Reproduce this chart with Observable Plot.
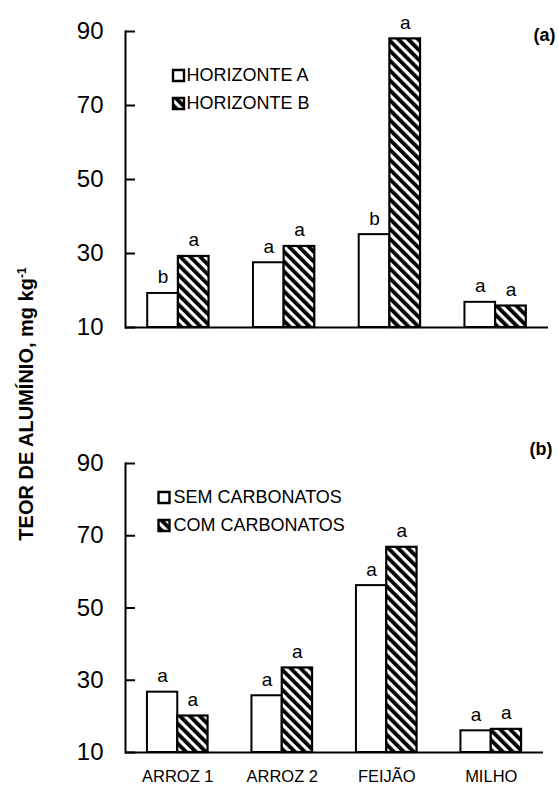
<!DOCTYPE html>
<html>
<head>
<meta charset="utf-8">
<script src="https://cdn.jsdelivr.net/npm/d3@7"></script>
<script src="https://cdn.jsdelivr.net/npm/@observablehq/plot@0.6"></script>
<style>
  html, body { margin: 0; padding: 0; background: #fff; }
  #wrap { position: relative; width: 558px; height: 786px; overflow: hidden; background: #fff; font-family: "Liberation Sans", Arial, sans-serif; }
  #top, #bottom { position: absolute; left: 0; }
  #top { top: 0; }
  #bottom { top: 420px; }
  #ylab { position: absolute; left: 26px; top: 404px; transform: translate(-50%, -50%) rotate(-90deg); white-space: nowrap; font-weight: bold; font-size: 20px; color: #000; line-height: 1; }
  #ylab sup { font-size: 0.6em; }
</style>
</head>
<body>
<div id="wrap">
  <div id="top"></div>
  <div id="bottom"></div>
  <div id="ylab">TEOR DE ALUMÍNIO, mg kg<sup>-1</sup></div>
</div>
<script>
// ---- data ----
const crops = ["ARROZ 1", "ARROZ 2", "FEIJÃO", "MILHO"];
const yTicks = [10, 30, 50, 70, 90];

// panel (a)
const horizonteA = [19.2, 27.5, 35.1, 16.8];
const horizonteB = [29.2, 31.9, 88.0, 15.8];
const letrasA_a = ["b", "a", "b", "a"];
const letrasA_b = ["a", "a", "a", "a"];
const legendA = ["HORIZONTE A", "HORIZONTE B"];

// panel (b)
const semCarbonatos = [26.7, 25.7, 56.2, 16.0];
const comCarbonatos = [20.1, 33.4, 66.8, 16.4];
const letrasB_a = ["a", "a", "a", "a"];
const letrasB_b = ["a", "a", "a", "a"];
const legendB = ["SEM CARBONATOS", "COM CARBONATOS"];

const FONT = "'Liberation Sans', Arial, sans-serif";
const W = 558;
const PI_ = 0.42, PO_ = 0.21;

function panel(cfg) {
  const rows = crops.map((c, i) => ({crop: c, a: cfg.a[i], b: cfg.b[i], la: cfg.la[i], lb: cfg.lb[i]}));
  const step = (W - cfg.ml - cfg.mr) / (crops.length - PI_ + 2 * PO_);
  const bw = step * (1 - PI_);
  const hatch = `url(#${cfg.id})`;
  const marks = [
    Plot.barY(rows, {x: "crop", y1: 10, y2: "a", fill: "white", stroke: "black", strokeWidth: 2, insetRight: bw / 2}),
    Plot.barY(rows, {x: "crop", y1: 10, y2: "b", fill: hatch, stroke: "black", strokeWidth: 2.2, insetLeft: bw / 2}),
    Plot.text(rows, {x: "crop", y: "a", text: "la", dx: -bw / 4, dy: -10, lineAnchor: "bottom", fontSize: 19}),
    Plot.text(rows, {x: "crop", y: "b", text: "lb", dx: bw / 4, dy: -10, lineAnchor: "bottom", fontSize: 19}),
    Plot.ruleY([10], {strokeWidth: 2}),
    Plot.frame({anchor: "left", strokeWidth: 2}),
    Plot.axisY({ticks: yTicks, tickSize: 10, dx: 10, tickPadding: 22, fontSize: 24, strokeWidth: 2, label: null, tickFormat: d => String(d)}),
    // legend
    Plot.dot([0], {frameAnchor: "top-left", dx: cfg.lgSq, dy: cfg.lgY1, symbol: "square", r: 6.2, fill: "white", stroke: "black", strokeWidth: 2.4}),
    Plot.dot([0], {frameAnchor: "top-left", dx: cfg.lgSq, dy: cfg.lgY2, symbol: "square", r: 6.2, fill: hatch, stroke: "black", strokeWidth: 2.4}),
    Plot.text([cfg.legend[0]], {frameAnchor: "top-left", dx: cfg.lgTx, dy: cfg.lgY1, text: d => d, textAnchor: "start", lineAnchor: "middle", fontSize: 18}),
    Plot.text([cfg.legend[1]], {frameAnchor: "top-left", dx: cfg.lgTx, dy: cfg.lgY2, text: d => d, textAnchor: "start", lineAnchor: "middle", fontSize: 18}),
    // panel tag
    Plot.text([cfg.tag], {frameAnchor: "top-right", dx: cfg.tagDx, dy: cfg.tagDy, text: d => d, textAnchor: "end", lineAnchor: "middle", fontSize: 18, fontWeight: "bold"})
  ];
  if (cfg.showX) {
    marks.push(Plot.axisX({tickSize: 0, tickPadding: 18, fontSize: 16.5, label: null}));
  }
  const svg = Plot.plot({
    width: W,
    height: cfg.height,
    marginLeft: cfg.ml,
    marginRight: cfg.mr,
    marginTop: cfg.mt,
    marginBottom: cfg.mb,
    style: {fontFamily: FONT, color: "#000", background: "#fff", overflow: "visible"},
    x: {domain: crops, paddingInner: PI_, paddingOuter: PO_, round: false, axis: cfg.showX ? undefined : null},
    y: {domain: [10, 90]},
    marks
  });
  const P = 7, B = 3.8;
  const defs = d3.select(svg).insert("defs", ":first-child");
  const pat = defs.append("pattern")
    .attr("id", cfg.id)
    .attr("patternUnits", "userSpaceOnUse")
    .attr("width", P).attr("height", P)
    .attr("patternTransform", "rotate(-45)");
  pat.append("rect").attr("width", P).attr("height", P).attr("fill", "white");
  pat.append("rect").attr("width", B).attr("height", P).attr("fill", "black");
  return svg;
}

document.getElementById("top").appendChild(panel({
  id: "hatchA", a: horizonteA, b: horizonteB, la: letrasA_a, lb: letrasA_b, legend: legendA, tag: "(a)",
  height: 345, ml: 125, mr: 10, mt: 31, mb: 18, showX: false,
  lgSq: 53, lgTx: 61, lgY1: 44, lgY2: 72, tagDx: 7, tagDy: 4
}));

document.getElementById("bottom").appendChild(panel({
  id: "hatchB", a: semCarbonatos, b: comCarbonatos, la: letrasB_a, lb: letrasB_b, legend: legendB, tag: "(b)",
  height: 366, ml: 125, mr: 15, mt: 43, mb: 34, showX: true,
  lgSq: 38.5, lgTx: 48, lgY1: 34, lgY2: 62, tagDx: 9, tagDy: -14
}));
</script>
</body>
</html>
